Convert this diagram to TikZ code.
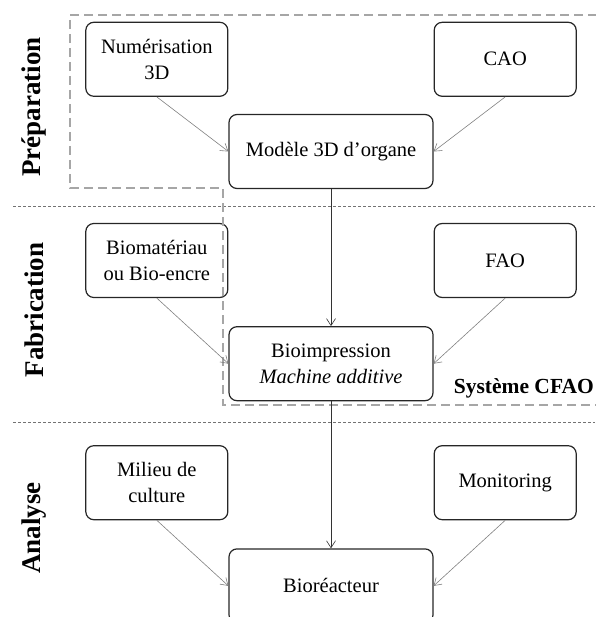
\documentclass[tikz,border=0pt]{standalone}
\usepackage{fontspec}
\setmainfont{Liberation Serif}
\usetikzlibrary{positioning,arrows.meta}

\begin{document}
\begin{tikzpicture}[
  x=1pt, y=-1pt,
  node distance = 17pt,
  every node/.style = {font=\fontsize{20.5}{26}\selectfont},
  %% box styles
  box/.style     = {rectangle, rounded corners=8pt, draw=black!85,
                    line width=1.2pt, align=center,
                    minimum height=74pt, inner sep=2pt},
  sidebox/.style = {box, minimum width=142pt},
  mainbox/.style = {box, minimum width=204pt},
  %% phase labels
  phase/.style   = {rotate=90, font=\fontsize{27}{32}\selectfont\bfseries},
  %% arrows and lines
  arr/.style     = {-{Straight Barb[length=7pt,width=9pt]},
                    draw=black!50, line width=0.6pt},
  flow/.style    = {arr, draw=black!80},
  sep/.style     = {draw=black!55, dash pattern=on 3pt off 2pt,
                    line width=0.6pt},
  cfao/.style    = {draw=black!35, dash pattern=on 9pt off 5pt,
                    line width=1.3pt}
]
\useasboundingbox (0,0) rectangle (595,617);

%% ---- Centre column ----
\node[mainbox] (MOD) at (331,151.5) {Modèle 3D d’organe};
\node[mainbox, below=137pt of MOD] (BIO)
  {Bioimpression\\\textit{Machine additive}};
\node[mainbox, below=147pt of BIO] (REA) {Bioréacteur};

%% ---- Side boxes ----
\node[sidebox, above left=17pt and 0pt of MOD]  (NUM) {Numérisation\\3D};
\node[sidebox, above right=17pt and 0pt of MOD] (CAO) {CAO};
\node[sidebox, above left=28pt and 0pt of BIO]  (MAT) {Biomatériau\\ou Bio-encre};
\node[sidebox, above right=28pt and 0pt of BIO] (FAO) {FAO};
\node[sidebox, above left=28pt and 0pt of REA]  (MIL) {Milieu de\\culture};
\node[sidebox, above right=28pt and 0pt of REA] (MON) {Monitoring};

%% ---- Phase labels ----
\node[phase] (PREP) at (34,107) {Préparation};
\node[phase] (FAB)  at (34,310) {Fabrication};
\node[phase] (ANA)  at (34,528) {Analyse};

%% ---- Separators ----
\coordinate (S1a) at (13,206);  \coordinate (S1b) at (595,206);
\coordinate (S2a) at (13,422);  \coordinate (S2b) at (595,422);
\draw[sep] (S1a) -- (S1b);
\draw[sep] (S2a) -- (S2b);

%% ---- CFAO system ----
\draw[cfao] (597,15) -- (70,15) -- (70,188) -- (223,188)
  -- (223,405) -- (597,405);
\node[font=\fontsize{21.5}{24}\selectfont\bfseries, anchor=east,
      inner xsep=1pt] (CFAO) at (595,388) {Système CFAO};

%% ---- Arrows ----
\draw[arr] (NUM.south) -- (MOD.west);
\draw[arr] (CAO.south) -- (MOD.east);
\draw[flow] (MOD) -- (BIO);
\draw[arr] (MAT.south) -- (BIO.west);
\draw[arr] (FAO.south) -- (BIO.east);
\draw[flow] (BIO) -- (REA);
\draw[arr] (MIL.south) -- (REA.west);
\draw[arr] (MON.south) -- (REA.east);

\end{tikzpicture}
\end{document}
